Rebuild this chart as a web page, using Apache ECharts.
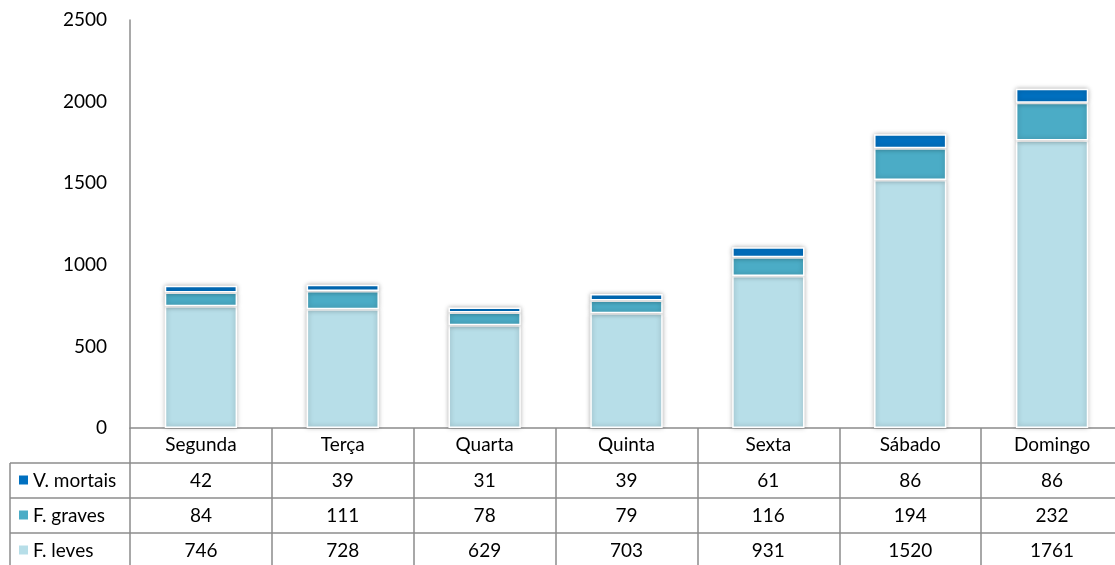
<!DOCTYPE html>
<html>
<head>
<meta charset="utf-8">
<script src="https://cdn.jsdelivr.net/npm/echarts@6/dist/echarts.min.js"></script>
<style>
  html, body { margin: 0; padding: 0; background: #fff; }
  #chart { width: 1115px; height: 565px; }
</style>
</head>
<body>
<div id="chart"></div>
<script>
const days = ['Segunda', 'Terça', 'Quarta', 'Quinta', 'Sexta', 'Sábado', 'Domingo'];
const mortais = [42, 39, 31, 39, 61, 86, 86];
const graves = [84, 111, 78, 79, 116, 194, 232];
const leves = [746, 728, 629, 703, 931, 1520, 1761];
const yTicks = [0, 500, 1000, 1500, 2000, 2500];

const font = 'Lato, "Noto Sans", sans-serif';
const lineColor = '#8c8c8c';

// linhas da tabela, de cima para baixo
const rows = [
  { name: 'V. mortais', color: '#0070c0', values: mortais },
  { name: 'F. graves', color: '#4bacc6', values: graves },
  { name: 'F. leves', color: '#b7dee8', values: leves }
];

const chart = echarts.init(document.getElementById('chart'));

const barStyle = (color) => ({
  color: color,
  borderColor: '#fff',
  borderWidth: 1.5,
  shadowBlur: 5,
  shadowColor: 'rgba(0,0,0,0.3)'
});

chart.setOption({
  animation: false,
  // a grelha passa um pouco da margem direita, como no original
  grid: { left: 130, top: 20, width: 993, height: 408, outerBoundsMode: 'none', containLabel: false },
  xAxis: {
    type: 'category',
    data: days,
    axisLine: { lineStyle: { color: lineColor, width: 1.5 } },
    axisTick: { show: true, length: 140, lineStyle: { color: lineColor, width: 1.5 } },
    axisLabel: { margin: 7, color: '#000', fontSize: 19, fontFamily: font }
  },
  yAxis: {
    type: 'value',
    min: yTicks[0],
    max: yTicks[yTicks.length - 1],
    interval: 500,
    axisLine: { show: true, lineStyle: { color: lineColor, width: 1.5 } },
    axisTick: { show: false },
    splitLine: { show: false },
    axisLabel: { margin: 23, color: '#000', fontSize: 19, fontFamily: font, formatter: (v) => String(v) }
  },
  series: [
    { name: 'F. leves', type: 'bar', stack: 'a', barWidth: '51%', data: leves, itemStyle: barStyle(rows[2].color) },
    { name: 'F. graves', type: 'bar', stack: 'a', data: graves, itemStyle: barStyle(rows[1].color) },
    { name: 'V. mortais', type: 'bar', stack: 'a', data: mortais, itemStyle: barStyle(rows[0].color) }
  ]
});

// tabela de dados por baixo do eixo
const rowTop = 463;
const rowH = 35;
const graphics = [];
rows.forEach((r, i) => {
  const y = rowTop + i * rowH;
  graphics.push({
    type: 'line',
    shape: { x1: 10, y1: y, x2: 1115, y2: y },
    style: { stroke: lineColor, lineWidth: 1.5 }
  });
  graphics.push({
    type: 'rect',
    shape: { x: 19, y: y + rowH / 2 - 5, width: 9, height: 9 },
    style: { fill: r.color }
  });
  graphics.push({
    type: 'text',
    x: 33, y: y + rowH / 2,
    style: { text: r.name, fill: '#000', font: '19px ' + font, verticalAlign: 'middle' }
  });
  r.values.forEach((v, j) => {
    const cx = chart.convertToPixel({ xAxisIndex: 0 }, days[j]);
    graphics.push({
      type: 'text',
      x: cx, y: y + rowH / 2,
      style: { text: String(v), fill: '#000', font: '19px ' + font, align: 'center', verticalAlign: 'middle' }
    });
  });
});
graphics.push({
  type: 'line',
  shape: { x1: 10, y1: rowTop, x2: 10, y2: 565 },
  style: { stroke: lineColor, lineWidth: 1.5 }
});
chart.setOption({ graphic: graphics });
</script>
</body>
</html>
